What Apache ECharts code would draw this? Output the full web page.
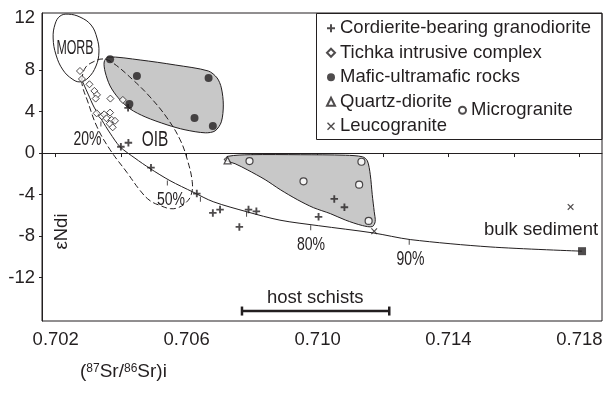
<!DOCTYPE html>
<html>
<head>
<meta charset="utf-8">
<script src="https://cdn.jsdelivr.net/npm/echarts@6/dist/echarts.min.js"></script>
<style>
  html, body { margin: 0; padding: 0; background: #fff; }
  #chart { width: 611px; height: 396px; }
</style>
</head>
<body>
<div id="chart"></div>
<script>
// ---- axis ranges and ticks ----
const xRange = [0.70158, 0.71869];
const yRange = [-16.19, 13.5];
const xTickValues = [0.702, 0.704, 0.706, 0.708, 0.710, 0.712, 0.714, 0.716, 0.718];
const xLabelValues = [0.702, 0.706, 0.710, 0.714, 0.718];
const yTickValues = [-12, -8, -4, 0, 4, 8];
const yLabelValues = [-12, -8, -4, 0, 4, 8, 13];   // top label sits at the frame corner

// reference lines: bulk-earth Sr and CHUR (eNd = 0)
const bulkEarthSr = 0.70463;
const churNd = 0;

// ---- samples: [(87Sr/86Sr)i, eNdi] ----
const cordierite = [[0.70421,4.36],[0.70422,0.99],[0.70399,0.61],[0.70491,-1.41],[0.70631,-3.91],
  [0.70680,-5.77],[0.70702,-5.45],[0.70789,-5.45],[0.70813,-5.62],[0.70761,-7.12],
  [0.71003,-6.15],[0.71051,-4.42],[0.71082,-5.23]];
const tichka = [[0.70274,7.91],[0.70280,7.14],[0.70303,6.63],[0.70318,5.99],[0.70326,5.61],
  [0.70322,5.25],[0.70367,5.25],[0.70405,5.12],[0.70325,3.83],[0.70341,3.54],[0.70348,3.73],
  [0.70366,3.90],[0.70355,3.35],[0.70371,3.20],[0.70381,3.11],[0.70365,2.82],[0.70374,2.48]];
const mafic = [[0.70366,9.04],[0.70448,7.43],[0.70425,4.74],[0.70667,7.24],[0.70624,3.37],[0.70680,2.60]];
const quartzDiorite = [[0.70725,-0.71]];
const microgranite = [[0.70792,-0.77],[0.70957,-2.73],[0.71134,-0.84],[0.71127,-3.05],[0.71156,-6.54]];
const leucogranite = [[0.71173,-7.54],[0.71773,-5.19]];
const bulkSediment = [[0.71808,-9.46]];

// mixing hyperbola from mantle melt towards bulk sediment
const mixingCurve = [[0.70277,7.23],[0.70299,5.68],[0.70317,4.43],[0.70341,3.17],[0.70366,1.92],
  [0.70396,0.62],[0.70442,-0.49],[0.70488,-1.49],[0.70549,-2.66],[0.70620,-3.77],[0.70681,-4.69],
  [0.70785,-5.67],[0.70885,-6.47],[0.71002,-7.00],[0.71170,-7.70],[0.71283,-8.34],[0.71527,-9.05],
  [0.71808,-9.46]];
// mixing proportions marked on the curve (20, 50, 60, 70, 80, 90 %)
const mixTicks = [[0.70338,3.08],[0.70541,-2.61],[0.70642,-4.16],[0.70783,-5.61],[0.70979,-6.91],[0.71280,-8.31]];

// host schist Sr range
const hostSchists = [[0.70769,-15.23],[0.71219,-15.23]];

// ---- field outlines ----
const morbField = [[0.70238,13.39],[0.70274,13.11],[0.70308,12.34],[0.70326,11.09],[0.70332,9.74],
  [0.70323,8.39],[0.70299,7.24],[0.70274,6.86],[0.70250,7.14],[0.70222,8.01],[0.70201,9.45],
  [0.70192,11.09],[0.70198,12.43],[0.70213,13.20]];
const oibField = [[0.70280,7.05],[0.70290,8.20],[0.70314,8.78],[0.70345,9.07],[0.70375,8.68],
  [0.70436,7.05],[0.70488,5.41],[0.70540,3.39],[0.70580,1.28],[0.70602,-0.64],[0.70617,-2.76],
  [0.70614,-4.01],[0.70598,-4.78],[0.70574,-5.26],[0.70550,-5.36],[0.70520,-5.07],[0.70488,-4.59],
  [0.70458,-3.62],[0.70418,-1.89],[0.70366,0.32],[0.70326,2.53],[0.70296,5.12],[0.70283,6.28]];
const maficField = [[0.70348,8.78],[0.70360,9.26],[0.70458,8.97],[0.70565,8.49],[0.70666,7.91],
  [0.70693,7.24],[0.70706,6.28],[0.70712,4.64],[0.70706,3.01],[0.70687,2.14],[0.70657,1.95],
  [0.70595,2.24],[0.70540,2.72],[0.70473,3.49],[0.70427,4.26],[0.70391,5.32],[0.70366,6.47],[0.70351,7.82]];
const graniteField = [[0.70715,-0.64],[0.70727,-0.31],[0.70794,-0.16],[0.70947,-0.16],[0.71085,-0.21],
  [0.71137,-0.36],[0.71152,-0.74],[0.71161,-2.09],[0.71167,-4.01],[0.71173,-5.64],[0.71176,-6.61],
  [0.71167,-7.09],[0.71137,-6.99],[0.71085,-6.46],[0.71039,-5.84],[0.70987,-5.26],[0.70938,-4.49],
  [0.70886,-3.53],[0.70840,-2.57],[0.70785,-1.61],[0.70748,-1.03],[0.70724,-0.79]];

// ---- styling ----
const INK = '#231f20';
const FONT = '"Liberation Sans", Arial, Helvetica, sans-serif';
const PLUS = 'path://M3,0H5V3H8V5H5V8H3V5H0V3H3Z';
const CROSS = 'path://M1,0L4,3L7,0L8,1L5,4L8,7L7,8L4,5L1,8L0,7L3,4L0,1Z';

function fieldSeries(name, pts, fill, dash, smooth) {
  return {
    type: 'custom', name: name, silent: true, data: pts, z: 1,
    renderItem: function (params, api) {
      if (params.dataIndex !== 0) return null;
      return {
        type: 'polygon',
        shape: { points: pts.map(function (p) { return api.coord(p); }), smooth: smooth },
        style: { fill: fill, stroke: INK, lineWidth: 1, lineDash: dash }
      };
    }
  };
}

function label(text, x, y, size, sx, extra) {
  return Object.assign({
    type: 'text', x: x, y: y, scaleX: sx || 1, silent: true, z: 50,
    style: { text: text, fill: INK, font: size + 'px ' + FONT, align: 'center', verticalAlign: 'middle' }
  }, extra || {});
}

const chart = echarts.init(document.getElementById('chart'));
chart.setOption({
  animation: false,
  backgroundColor: '#fff',
  grid: { left: 42, right: 9, top: 13, bottom: 75, show: true, borderColor: INK, borderWidth: 1, backgroundColor: 'transparent' },
  xAxis: {
    type: 'value', min: xRange[0], max: xRange[1],
    axisLine: { show: true, lineStyle: { color: INK, width: 1 } },
    axisTick: { show: true, length: 4, customValues: xTickValues, lineStyle: { color: INK } },
    axisLabel: { customValues: xLabelValues, formatter: function (v) { return v.toFixed(3); },
      color: INK, fontSize: 18.5, fontFamily: FONT, margin: 9 },
    splitLine: { show: false }
  },
  yAxis: {
    type: 'value', min: yRange[0], max: yRange[1],
    axisLine: { show: true, lineStyle: { color: INK, width: 1 } },
    axisTick: { show: true, length: 3, customValues: yTickValues, lineStyle: { color: INK } },
    axisLabel: { customValues: yLabelValues, formatter: function (v) { return v > 12 ? '12' : String(v); },
      color: INK, fontSize: 18.5, fontFamily: FONT, margin: 7 },
    splitLine: { show: false }
  },
  legend: [
    {
      data: ['Cordierite-bearing granodiorite', 'Tichka intrusive complex', 'Mafic-ultramafic rocks', 'Quartz-diorite', 'Leucogranite'],
      orient: 'vertical', left: 326, top: 16, padding: 0, itemGap: 0,
      itemWidth: 8, itemHeight: 8, selectedMode: false,
      textStyle: { color: INK, fontSize: 18.5, fontFamily: FONT, lineHeight: 24.5 }
    },
    {
      data: ['Microgranite'],
      orient: 'vertical', left: 458, top: 98, padding: 0,
      itemWidth: 7, itemHeight: 7, selectedMode: false,
      textStyle: { color: INK, fontSize: 18.5, fontFamily: FONT, lineHeight: 24.5 }
    }
  ],
  graphic: [
    { type: 'rect', silent: true, z: 40, shape: { x: 316.5, y: 13.5, width: 285.5, height: 126 },
      style: { fill: 'none', stroke: INK, lineWidth: 1 } },
    label('MORB', 75, 48.5, 20, 0.62),
    label('OIB', 155, 140, 22, 0.7),
    label('20%', 87.5, 139, 20, 0.7),
    label('50%', 171, 200, 19, 0.74),
    label('80%', 311, 245, 19, 0.74),
    label('90%', 410.5, 259.5, 20, 0.7),
    label('bulk sediment', 541, 230, 18.5, 1),
    label('host schists', 315.3, 298.3, 18.5, 1),
    label('\u03b5Ndi', 61.5, 231.5, 18.5, 1, { rotation: Math.PI / 2 }),
    {
      type: 'text', x: 80, y: 372, silent: true,
      style: {
        text: '({sup|87}Sr/{sup|86}Sr)i', fill: INK, font: '19px ' + FONT, verticalAlign: 'middle', align: 'left',
        rich: { sup: { fontSize: 12, fontFamily: FONT, fill: INK, verticalAlign: 'top' } }
      }
    }
  ],
  series: [
    fieldSeries('MORB field', morbField, 'none', null, 0.4),
    fieldSeries('mafic field', maficField, '#c8c8c8', null, 0.3),
    fieldSeries('granite field', graniteField, '#c8c8c8', null, 0.3),
    fieldSeries('OIB field', oibField, 'none', [6, 3], 0.4),
    {
      type: 'line', name: 'mixing', data: mixingCurve, smooth: 0.3, showSymbol: false, silent: true, z: 3,
      lineStyle: { color: INK, width: 1 },
      markLine: {
        silent: true, symbol: 'none', label: { show: false },
        lineStyle: { color: INK, width: 1, type: 'solid' },
        data: [{ xAxis: bulkEarthSr }, { yAxis: churNd }]
      }
    },
    {
      type: 'scatter', name: 'mix ticks', data: mixTicks, symbol: 'rect', symbolSize: [1, 5],
      symbolOffset: [0, 3], silent: true, z: 3, itemStyle: { color: INK }
    },
    {
      type: 'line', name: 'host schists', data: hostSchists, symbol: 'rect', symbolSize: [2.5, 9],
      showSymbol: true, silent: true, z: 3,
      lineStyle: { color: INK, width: 2.5 }, itemStyle: { color: INK }
    },
    { type: 'scatter', name: 'Cordierite-bearing granodiorite', data: cordierite, symbol: PLUS, symbolSize: 7.5, z: 5,
      itemStyle: { color: INK } },
    { type: 'scatter', name: 'Tichka intrusive complex', data: tichka, symbol: 'diamond', symbolSize: 7, z: 5,
      itemStyle: { color: '#fff', borderColor: INK, borderWidth: 1 } },
    { type: 'scatter', name: 'Mafic-ultramafic rocks', data: mafic, symbol: 'circle', symbolSize: 8, z: 5,
      itemStyle: { color: INK } },
    { type: 'scatter', name: 'Quartz-diorite', data: quartzDiorite, symbol: 'triangle', symbolSize: 7, z: 5,
      itemStyle: { color: '#fff', borderColor: INK, borderWidth: 1.2 } },
    { type: 'scatter', name: 'Microgranite', data: microgranite, symbol: 'circle', symbolSize: 7, z: 5,
      itemStyle: { color: '#fff', borderColor: INK, borderWidth: 1.2 } },
    { type: 'scatter', name: 'Leucogranite', data: leucogranite, symbol: CROSS, symbolSize: 6.5, z: 5,
      itemStyle: { color: INK } },
    { type: 'scatter', name: 'bulk sediment', data: bulkSediment, symbol: 'rect', symbolSize: 8, z: 5,
      itemStyle: { color: INK } }
  ]
});
</script>
</body>
</html>
